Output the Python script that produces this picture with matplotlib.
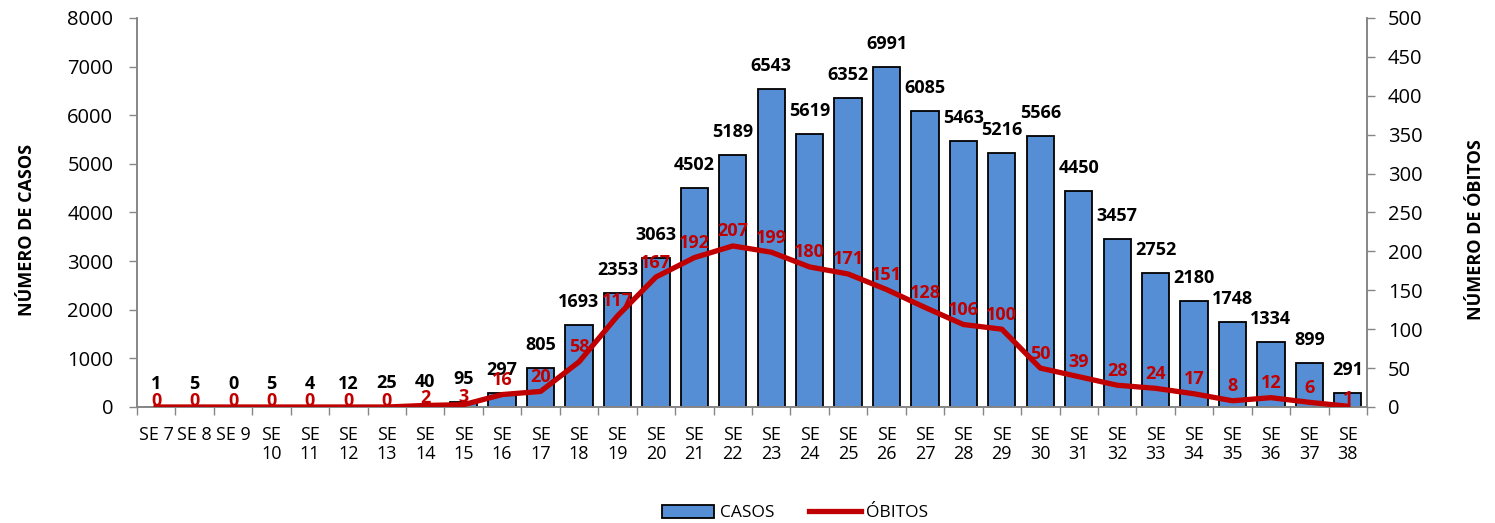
import matplotlib
matplotlib.use("Agg")
import matplotlib.pyplot as plt
from matplotlib.patches import Patch
from matplotlib.lines import Line2D
import numpy as np

weeks = ["SE 7", "SE 8", "SE 9", "SE\n10", "SE\n11", "SE\n12", "SE\n13", "SE\n14",
         "SE\n15", "SE\n16", "SE\n17", "SE\n18", "SE\n19", "SE\n20", "SE\n21", "SE\n22",
         "SE\n23", "SE\n24", "SE\n25", "SE\n26", "SE\n27", "SE\n28", "SE\n29", "SE\n30",
         "SE\n31", "SE\n32", "SE\n33", "SE\n34", "SE\n35", "SE\n36", "SE\n37", "SE\n38"]
casos = [1, 5, 0, 5, 4, 12, 25, 40, 95, 297, 805, 1693, 2353, 3063, 4502, 5189,
         6543, 5619, 6352, 6991, 6085, 5463, 5216, 5566, 4450, 3457, 2752, 2180,
         1748, 1334, 899, 291]
obitos = [0, 0, 0, 0, 0, 0, 0, 2, 3, 16, 20, 58, 117, 167, 192, 207, 199, 180,
          171, 151, 128, 106, 100, 50, 39, 28, 24, 17, 8, 12, 6, 1]
left_ticks = [0, 1000, 2000, 3000, 4000, 5000, 6000, 7000, 8000]
right_ticks = [0, 50, 100, 150, 200, 250, 300, 350, 400, 450, 500]

plt.rcParams['font.family'] = ['Open Sans', 'DejaVu Sans']
BLUE = "#558ED5"
RED = "#C00000"
GRAY = "#868686"

fig = plt.figure(figsize=(14.95, 5.23), dpi=100)
ax = fig.add_axes([0.0916, 0.2218, 0.8228, 0.7438])
ax2 = ax.twinx()

x = np.arange(len(weeks))
ax.bar(x, casos, width=0.71, color=BLUE, edgecolor="black", linewidth=1.3, zorder=2)
ax.set_xlim(-0.5, len(weeks) - 0.5)
ax.set_ylim(0, 8000)
ax.set_yticks(left_ticks)
ax2.set_ylim(0, 500)
ax2.set_yticks(right_ticks)

ax2.plot(x, obitos, color=RED, linewidth=3.8, zorder=3, solid_joinstyle="round")

for xi, v in zip(x, casos):
    ax.annotate(str(v), (xi, v), xytext=(0, 10), textcoords="offset points",
                ha="center", va="bottom", fontsize=13, fontweight="bold", color="black")
for xi, v in zip(x, obitos):
    dy = -2 if v == 0 else (-1 if v <= 3 else 4)
    ax2.annotate(str(v), (xi, v), xytext=(0, dy), textcoords="offset points",
                 ha="center", va="bottom", fontsize=13, fontweight="bold", color=RED,
                 zorder=4)

ax.set_xticks(np.arange(len(weeks) + 1) - 0.5, minor=False)
ax.set_xticklabels([])
ax.set_xticks(x, minor=True)
ax.set_xticklabels(weeks, minor=True, fontsize=13, linespacing=1.05)
ax.tick_params(axis="x", which="major", direction="out", length=6, color=GRAY, width=1)
ax.tick_params(axis="x", which="minor", length=0, pad=14)
ax.tick_params(axis="y", direction="out", length=6, color=GRAY, width=1, labelsize=14.5, pad=11)
ax2.tick_params(axis="y", direction="out", length=6, color=GRAY, width=1, labelsize=14.5, pad=9)

for a in (ax, ax2):
    for s in a.spines.values():
        s.set_color(GRAY)
        s.set_linewidth(1.2)
    a.spines["top"].set_visible(False)

ax.set_ylabel("NÚMERO DE CASOS", fontsize=13, fontweight="bold", labelpad=24)
ax2.set_ylabel("NÚMERO DE ÓBITOS", fontsize=13, fontweight="bold", labelpad=30)
ax.yaxis.set_label_coords(-0.082, 0.455)
ax2.yaxis.set_label_coords(1.081, 0.455)

handles = [Patch(facecolor=BLUE, edgecolor="black", linewidth=1.3),
           Line2D([0], [0], color=RED, linewidth=3.8)]
fig.legend(handles, ["CASOS", "ÓBITOS"], loc="lower center", bbox_to_anchor=(0.532, -0.027),
           ncol=2, frameon=False, fontsize=12.5, handlelength=3.0, handleheight=0.8,
           columnspacing=2.0, handletextpad=0.3)

fig.savefig("out.png", dpi=100)
